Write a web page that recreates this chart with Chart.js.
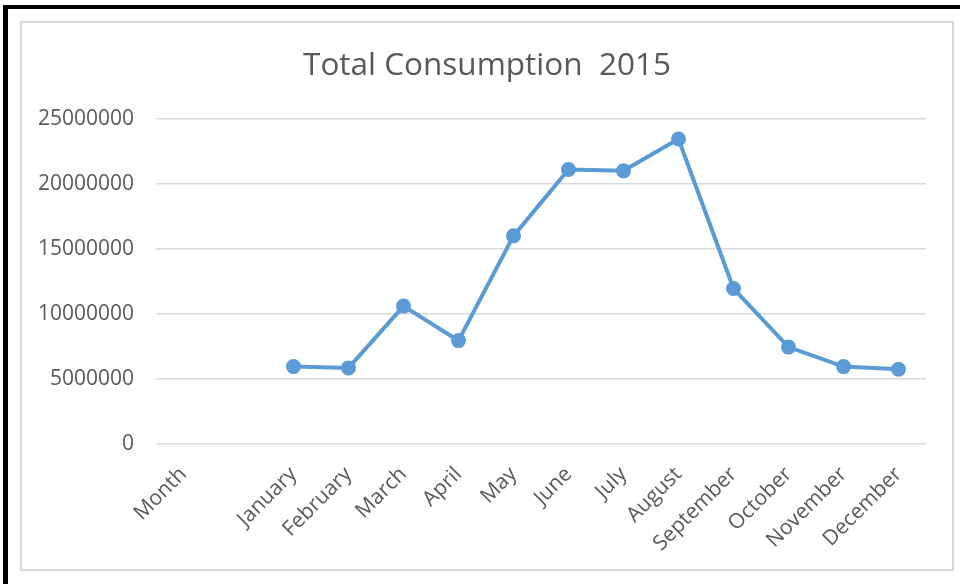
<!DOCTYPE html>
<html lang="en">

<head>
    <meta charset="UTF-8">
    <title>Total Consumption 2015</title>
    <script src="https://cdn.jsdelivr.net/npm/chart.js"></script>
    <style>
        body {
            margin: 0;
            background: #fff;
            font-family: "Open Sans", sans-serif;
        }

        .bar-top {
            position: absolute;
            left: 3px;
            top: 5px;
            width: 957px;
            height: 4px;
            background: #000;
        }

        .bar-left {
            position: absolute;
            left: 3px;
            top: 5px;
            width: 5px;
            height: 579px;
            background: #000;
        }

        .chart-box {
            position: absolute;
            left: 20px;
            top: 21px;
            width: 930px;
            height: 546px;
            border: 2px solid #d9d9d9;
        }
    </style>
</head>

<body>

    <div class="bar-top"></div>
    <div class="bar-left"></div>

    <div class="chart-box">
        <canvas id="grafConsumo" width="930" height="546"></canvas>
    </div>

    <script>
        const months = ['Month', '', 'January', 'February', 'March', 'April', 'May', 'June',
            'July', 'August', 'September', 'October', 'November', 'December'];
        const consumption = [null, null, 5950000, 5850000, 10600000, 7950000, 16000000, 21100000,
            21000000, 23450000, 11950000, 7450000, 5950000, 5750000];
        const yTicks = [0, 5000000, 10000000, 15000000, 20000000, 25000000];

        const grey = '#595959';

        new Chart(grafConsumo, {
            type: 'line',
            data: {
                labels: months,
                datasets: [{
                    label: 'Consumption',
                    data: consumption,
                    borderColor: '#5B9BD5',
                    backgroundColor: '#5B9BD5',
                    borderWidth: 4,
                    pointRadius: 5.5,
                    pointHoverRadius: 5.5,
                    tension: 0
                }]
            },
            options: {
                responsive: false,
                animation: false,
                layout: { padding: 0 },
                plugins: {
                    legend: { display: false },
                    tooltip: { enabled: false },
                    title: {
                        display: true,
                        text: 'Total Consumption  2015',
                        color: grey,
                        font: { family: 'Open Sans', size: 31.5, weight: 'normal' },
                        padding: { top: 24, bottom: 34 }
                    }
                },
                scales: {
                    x: {
                        offset: true,
                        grid: { display: false },
                        border: { display: false },
                        ticks: {
                            color: grey,
                            font: { family: 'Open Sans', size: 21 },
                            minRotation: 45,
                            maxRotation: 45,
                            padding: 10,
                            autoSkip: false
                        },
                        afterFit: s => { s.height = 125; }
                    },
                    y: {
                        min: 0,
                        max: 25000000,
                        afterBuildTicks: s => { s.ticks = yTicks.map(v => ({ value: v })); },
                        grid: { color: '#d9d9d9', lineWidth: 1.5, drawTicks: false },
                        border: { display: false },
                        ticks: {
                            color: grey,
                            font: { family: 'Open Sans', size: 21 },
                            padding: 22,
                            callback: v => String(v)
                        },
                        afterFit: s => { s.width = 134; }
                    },
                    // empty right-hand axis, only keeps the space on the right
                    yRight: {
                        position: 'right',
                        grid: { display: false },
                        border: { display: false },
                        ticks: { display: false },
                        afterFit: s => { s.width = 26; }
                    }
                }
            }
        });
    </script>

</body>

</html>
